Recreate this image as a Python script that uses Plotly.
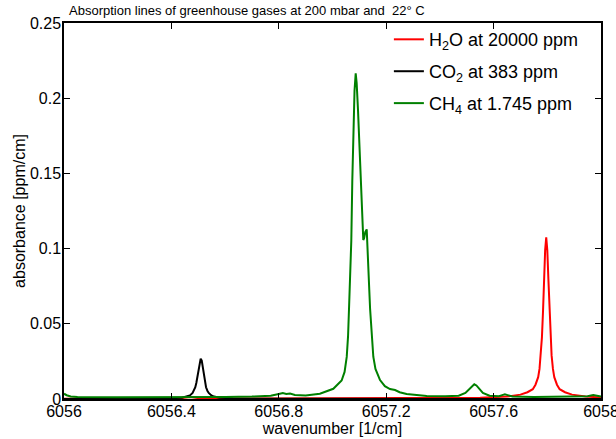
import plotly.graph_objects as go

# ---- data ----
h2o_wn = [6056.00, 6056.40, 6056.44, 6056.47, 6056.50, 6056.55, 6057.00, 6057.40,
          6057.55, 6057.65, 6057.70, 6057.726, 6057.746, 6057.756, 6057.766, 6057.771,
          6057.776, 6057.780, 6057.784, 6057.788, 6057.792, 6057.796, 6057.800, 6057.804,
          6057.808, 6057.812, 6057.816, 6057.821, 6057.826, 6057.836, 6057.846, 6057.866,
          6057.892, 6057.942, 6058.00]
h2o_abs = [0.0002, 0.0003, 0.0007, 0.0013, 0.0006, 0.0003, 0.0003, 0.0005,
           0.0008, 0.0016, 0.0029, 0.0045, 0.0065, 0.0095, 0.0145, 0.0200,
           0.0290, 0.0410, 0.0580, 0.0800, 0.0990, 0.1075, 0.0990, 0.0800,
           0.0580, 0.0410, 0.0290, 0.0200, 0.0145, 0.0095, 0.0065, 0.0045,
           0.0029, 0.0016, 0.0010]

co2_wn = [6056.00, 6056.30, 6056.389, 6056.439, 6056.459, 6056.469, 6056.479, 6056.484,
          6056.489, 6056.493, 6056.497, 6056.501, 6056.505, 6056.509, 6056.513, 6056.517,
          6056.521, 6056.525, 6056.529, 6056.534, 6056.539, 6056.549, 6056.559, 6056.579,
          6056.629, 6056.72, 6057.00, 6058.00]
co2_abs = [0.0000, 0.0001, 0.0004, 0.0009, 0.0016, 0.0024, 0.0040, 0.0055,
           0.0078, 0.0108, 0.0150, 0.0205, 0.0255, 0.0268, 0.0255, 0.0205,
           0.0150, 0.0108, 0.0078, 0.0055, 0.0040, 0.0024, 0.0016, 0.0009,
           0.0004, 0.0001, 0.0000, 0.0000]

ch4_wn = [6056.000, 6056.010, 6056.025, 6056.050, 6056.200, 6056.450, 6056.600, 6056.700,
          6056.770, 6056.800, 6056.815, 6056.828, 6056.842, 6056.860, 6056.880, 6056.900,
          6056.953, 6057.003, 6057.034, 6057.045, 6057.053, 6057.058, 6057.0615, 6057.065,
          6057.070, 6057.0737, 6057.078, 6057.082, 6057.0864, 6057.090, 6057.095, 6057.100,
          6057.105, 6057.110, 6057.1147, 6057.118, 6057.122, 6057.1274, 6057.130, 6057.1333,
          6057.137, 6057.140, 6057.145, 6057.152, 6057.160, 6057.177, 6057.195, 6057.214,
          6057.233, 6057.250, 6057.276, 6057.320, 6057.351, 6057.420, 6057.470, 6057.495,
          6057.510, 6057.520, 6057.528, 6057.536, 6057.546, 6057.560, 6057.585, 6057.620,
          6057.632, 6057.642, 6057.652, 6057.670, 6057.750, 6057.900, 6057.950, 6057.971,
          6057.990, 6058.000]
ch4_abs = [0.0035, 0.0025, 0.0017, 0.0013, 0.0011, 0.0011, 0.0013, 0.0016,
           0.0022, 0.0033, 0.0039, 0.0033, 0.0036, 0.0027, 0.0023, 0.0023,
           0.0035, 0.0068, 0.0123, 0.0180, 0.0280, 0.0420, 0.0600, 0.0750,
           0.1050, 0.1450, 0.1800, 0.2050, 0.2165, 0.2100, 0.1920, 0.1700,
           0.1460, 0.1220, 0.1057, 0.1070, 0.1110, 0.1128, 0.1040, 0.0924,
           0.0725, 0.0600, 0.0450, 0.0281, 0.0200, 0.0126, 0.0085, 0.0066,
           0.0060, 0.0045, 0.0033, 0.0024, 0.0020, 0.0018, 0.0022, 0.0040,
           0.0068, 0.0090, 0.0098, 0.0090, 0.0068, 0.0040, 0.0022, 0.0018,
           0.0026, 0.0031, 0.0026, 0.0017, 0.0013, 0.0014, 0.0019, 0.0027,
           0.0019, 0.0016]

x_ticks = [6056, 6056.4, 6056.8, 6057.2, 6057.6, 6058]
x_tick_labels = ["6056", "6056.4", "6056.8", "6057.2", "6057.6", "6058"]
y_ticks = [0, 0.05, 0.1, 0.15, 0.2, 0.25]
y_tick_labels = ["0", "0.05", "0.1", "0.15", "0.2", "0.25"]

series = [
    ("H<sub>2</sub>O at 20000 ppm", h2o_wn, h2o_abs, "#ff0000"),
    ("CO<sub>2</sub> at 383 ppm", co2_wn, co2_abs, "#000000"),
    ("CH<sub>4</sub> at 1.745 ppm", ch4_wn, ch4_abs, "#008000"),
]

FONT = "Liberation Sans, Arial, sans-serif"

fig = go.Figure()
for i, (name, xs, ys, col) in enumerate(series):
    fig.add_trace(go.Scatter(x=xs, y=ys, mode="lines", name=name, legendgroup=f"g{i}",
                             line=dict(color=col, width=2)))

axis_common = dict(showline=True, linecolor="black", linewidth=1.5, mirror="ticks",
                   ticks="inside", ticklen=6, tickwidth=1, tickcolor="black",
                   showgrid=False, zeroline=False, automargin=False,
                   ticklabeloverflow="allow",
                   tickfont=dict(family=FONT, size=16, color="black"))

fig.update_layout(
    width=616, height=439,
    margin=dict(l=64, r=15, t=23, b=40),
    paper_bgcolor="white", plot_bgcolor="white",
    font=dict(family=FONT, color="black"),
    xaxis=dict(range=[6056, 6058], tickvals=x_ticks, ticktext=x_tick_labels,
               ticklabelstandoff=-3,
               title=dict(text="wavenumber [1/cm]", font=dict(family=FONT, size=16), standoff=0),
               **axis_common),
    yaxis=dict(range=[0, 0.25], tickvals=y_ticks, ticktext=y_tick_labels,
               ticklabelstandoff=-2,
               title=dict(text="absorbance [ppm/cm]", font=dict(family=FONT, size=16), standoff=0),
               **axis_common),
    legend=dict(x=0.605, y=1.005, xanchor="left", yanchor="top",
                bgcolor="rgba(0,0,0,0)", borderwidth=0,
                font=dict(family=FONT, size=18, color="black"),
                itemwidth=30, tracegroupgap=5.5),
    annotations=[dict(text="Absorption lines of greenhouse gases at 200 mbar and&nbsp; 22° C",
                      xref="paper", yref="paper", x=0.005, y=1.0, yshift=13,
                      xanchor="left", yanchor="middle", showarrow=False,
                      font=dict(family=FONT, size=13, color="black"))],
)

fig.write_html("out.html")
